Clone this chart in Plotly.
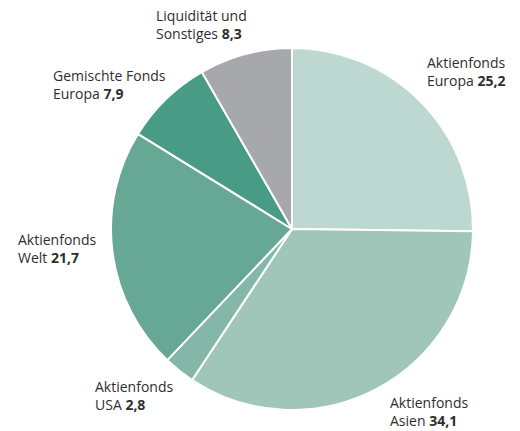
import plotly.graph_objects as go

categories = ["Aktienfonds<br>Europa", "Aktienfonds<br>Asien", "Aktienfonds<br>USA",
              "Aktienfonds<br>Welt", "Gemischte Fonds<br>Europa", "Liquidität und<br>Sonstiges"]
values = [25.2, 34.1, 2.8, 21.7, 7.9, 8.3]
value_labels = ["25,2", "34,1", "2,8", "21,7", "7,9", "8,3"]
colors = ["#bdd8d0", "#9fc6b9", "#84b7a7", "#67a894", "#489b85", "#a7a8ab"]

W, H = 520, 431
cx, cy, r = 292, 229, 181

fig = go.Figure(go.Pie(
    labels=categories, values=values, sort=False, direction="clockwise", rotation=0,
    marker=dict(colors=colors, line=dict(color="white", width=2)),
    textinfo="none", hoverinfo="label+value", showlegend=False,
    domain=dict(x=[(cx - r) / W, (cx + r) / W], y=[1 - (cy + r) / H, 1 - (cy - r) / H]),
))

# label anchor positions (px, top-left of text block)
label_pos = [(425, 51), (388, 391), (93, 375), (16, 228), (51, 64), (154, 4)]
for cat, vl, (lx, ly) in zip(categories, value_labels, label_pos):
    fig.add_annotation(
        x=lx / W, y=1 - ly / H, xref="paper", yref="paper",
        xanchor="left", yanchor="top", align="left", showarrow=False,
        text=f"{cat} <b>{vl}</b>",
        font=dict(family="Open Sans, sans-serif", size=14, color="#2e2e2e"),
    )

fig.update_layout(width=W, height=H, margin=dict(l=0, r=0, t=0, b=0),
                  paper_bgcolor="white", plot_bgcolor="white")
fig.write_html("out.html", post_script="document.body.style.margin='0';",
               config={"displayModeBar": False})
